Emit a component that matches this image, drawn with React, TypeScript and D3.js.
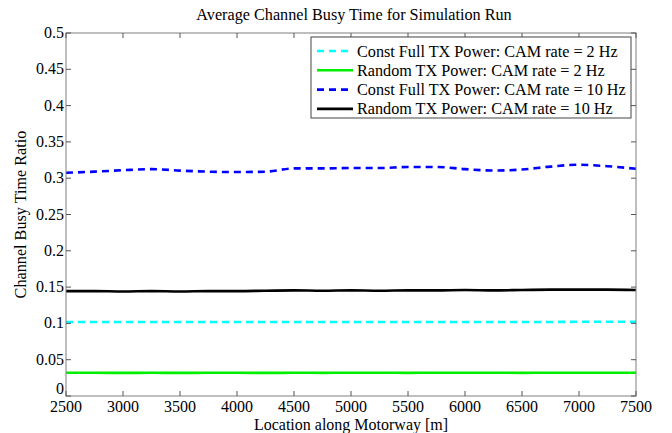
import React from "react";
import * as d3 from "d3";

const locations = [2500, 2750, 3000, 3250, 3500, 3750, 4000, 4250, 4500, 4750, 5000, 5250, 5500, 5750, 6000, 6250, 6500, 6750, 7000, 7250, 7500];

const constFull2Hz = [0.102, 0.102, 0.102, 0.102, 0.102, 0.102, 0.102, 0.102, 0.102, 0.102, 0.102, 0.102, 0.102, 0.102, 0.102, 0.102, 0.102, 0.102, 0.1022, 0.1022, 0.1022];
const random2Hz = [0.032, 0.032, 0.0318, 0.032, 0.0318, 0.032, 0.032, 0.0318, 0.032, 0.0319, 0.032, 0.032, 0.0319, 0.032, 0.032, 0.032, 0.0319, 0.032, 0.032, 0.032, 0.032];
const constFull10Hz = [0.3075, 0.309, 0.311, 0.3125, 0.3105, 0.309, 0.3085, 0.309, 0.3135, 0.3135, 0.314, 0.314, 0.3155, 0.3155, 0.3125, 0.3105, 0.312, 0.316, 0.3185, 0.3165, 0.313];
const random10Hz = [0.1445, 0.1445, 0.144, 0.1445, 0.144, 0.1445, 0.1445, 0.145, 0.1455, 0.145, 0.1455, 0.145, 0.1455, 0.1455, 0.146, 0.1455, 0.146, 0.1465, 0.1465, 0.1465, 0.146];

const xTicks = [2500, 3000, 3500, 4000, 4500, 5000, 5500, 6000, 6500, 7000, 7500];
const yTicks = [0, 0.05, 0.1, 0.15, 0.2, 0.25, 0.3, 0.35, 0.4, 0.45, 0.5];

const series = [
  { name: "Const Full TX Power: CAM rate = 2 Hz", values: constFull2Hz, color: "#00ffff", dash: "7,5" },
  { name: "Random TX Power: CAM rate = 2 Hz", values: random2Hz, color: "#00ee00", dash: "" },
  { name: "Const Full TX Power: CAM rate = 10 Hz", values: constFull10Hz, color: "#0000ff", dash: "7,5" },
  { name: "Random TX Power: CAM rate = 10 Hz", values: random10Hz, color: "#000000", dash: "" },
];

export default function App() {
  const width = 672;
  const height = 433;
  const margin = { top: 33, right: 36, bottom: 37, left: 66 };
  const font = "'Liberation Serif', 'Times New Roman', serif";
  const fs = 16;

  const x = d3.scaleLinear().domain([2500, 7500]).range([margin.left, width - margin.right]);
  const y = d3.scaleLinear().domain([0, 0.5]).range([height - margin.bottom, margin.top]);

  const line = d3.line<number>()
    .x((_, i) => x(locations[i]))
    .y(d => y(d))
    .curve(d3.curveMonotoneX);

  const x0 = margin.left;
  const x1 = width - margin.right;
  const y0 = height - margin.bottom;
  const y1 = margin.top;
  const tick = 5;

  return (
    <svg width={width} height={height} style={{ position: "absolute", left: 0, top: 0, background: "#fff" }} fontFamily={font}>
      {/* title */}
      <text x={354} y={20} textAnchor="middle" fontSize={16.2}>Average Channel Busy Time for Simulation Run</text>

      {/* series */}
      {series.map(s => (
        <path key={s.name} d={line(s.values) ?? ""} fill="none" stroke={s.color} strokeWidth={2.6} strokeDasharray={s.dash || undefined} />
      ))}

      {/* box */}
      <rect x={x0} y={y1} width={x1 - x0} height={y0 - y1} fill="none" stroke="#7f7f7f" strokeWidth={1} />

      {/* x ticks */}
      {xTicks.map(t => (
        <g key={t}>
          <line x1={x(t)} x2={x(t)} y1={y0} y2={y0 - tick} stroke="#555" />
          <line x1={x(t)} x2={x(t)} y1={y1} y2={y1 + tick} stroke="#555" />
          <text x={x(t)} y={y0 + 15.5} textAnchor="middle" fontSize={fs}>{t}</text>
        </g>
      ))}

      {/* y ticks */}
      {yTicks.map(t => (
        <g key={t}>
          <line x1={x0} x2={x0 + tick} y1={y(t)} y2={y(t)} stroke="#555" />
          <line x1={x1} x2={x1 - tick} y1={y(t)} y2={y(t)} stroke="#555" />
          <text x={x0 - 2} y={y(t) + (t === 0 ? -2 : 5)} textAnchor="end" fontSize={fs}>{String(t)}</text>
        </g>
      ))}

      {/* axis labels */}
      <text x={(x0 + x1) / 2} y={429.5} textAnchor="middle" fontSize={fs}>Location along Motorway [m]</text>
      <text transform={`translate(26,${(y0 + y1) / 2}) rotate(-90)`} textAnchor="middle" fontSize={16.2}>Channel Busy Time Ratio</text>

      {/* legend */}
      <g transform="translate(311,37)">
        <rect x={0} y={0} width={320} height={81} fill="#fff" stroke="#444" strokeWidth={1} />
        {series.map((s, i) => (
          <g key={s.name} transform={`translate(0,${14 + i * 19.3})`}>
            <line x1={6} x2={42} y1={0} y2={0} stroke={s.color} strokeWidth={2.6} strokeDasharray={s.dash || undefined} />
            <text x={46} y={5.5} fontSize={16.2}>{s.name}</text>
          </g>
        ))}
      </g>
    </svg>
  );
}
